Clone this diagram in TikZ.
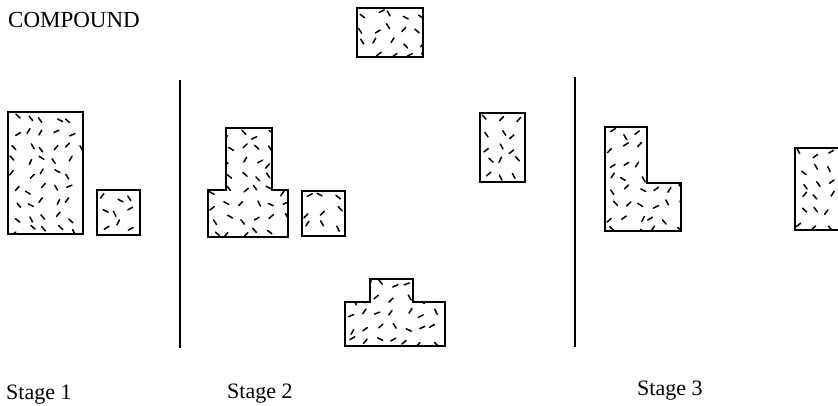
\documentclass[tikz,border=0pt]{standalone}
\usepackage{fontspec}
\setmainfont{Liberation Serif}
\tikzset{
  outline/.style={draw=black, line width=1.2pt, line join=miter},
  speck/.style={line width=1.5pt, line cap=round, draw=black},
  divider/.style={draw=black, line width=1.5pt},
  lbl/.style={inner sep=0pt, anchor=base west, font=\fontsize{22}{24}\selectfont},
  title/.style={inner sep=0pt, anchor=base west, font=\fontsize{23}{25}\selectfont},
}
\newcommand\speckle[5]{%
  \begin{scope}
    \clip #1;
    \pgfmathtruncatemacro\nx{(#4-#2)/14}
    \pgfmathtruncatemacro\ny{(#5-#3)/14}
    \foreach \i in {0,...,\nx}{
      \foreach \j in {0,...,\ny}{
        \pgfmathsetmacro\px{#2+7+\i*14+rnd*8-4}
        \pgfmathsetmacro\py{#3+7+\j*14+rnd*8-4}
        \pgfmathsetmacro\ang{ifthenelse(rnd<0.5,25+rnd*40,115+rnd*45)}
        \draw[speck] (\px,\py) ++(\ang:-2.8) -- ++(\ang:5.6);
      }}
  \end{scope}
  \draw[outline] #1;
}
\begin{document}
\begin{tikzpicture}[x=1pt,y=-1pt]
\useasboundingbox (0,0) rectangle (838,405);
\clip (0,0) rectangle (838,405);
\pgfmathsetseed{7}

% Stage 1
\speckle{(8,112) rectangle (83,234)}{8}{112}{83}{234}
\speckle{(97,190) rectangle (140,235)}{97}{190}{140}{235}

% divider 1
\coordinate (d1t) at (180,80);
\coordinate (d1b) at (180,348);
\draw[divider] (d1t) -- (d1b);

% Stage 2
\speckle{(226,128) -- (272,128) -- (272,190) -- (288,190) -- (288,237) -- (208,237) -- (208,190) -- (226,190) -- cycle}{208}{128}{288}{237}
\speckle{(302,191) rectangle (345,236)}{302}{191}{345}{236}
\speckle{(357,8) rectangle (423,57)}{357}{8}{423}{57}
\speckle{(480,113) rectangle (525,182)}{480}{113}{525}{182}
\speckle{(370,279) -- (413,279) -- (413,302) -- (445,302) -- (445,346) -- (345,346) -- (345,302) -- (370,302) -- cycle}{345}{279}{445}{346}

% divider 2
\coordinate (d2t) at (575,77);
\coordinate (d2b) at (575,347);
\draw[divider] (d2t) -- (d2b);

% Stage 3
\speckle{(605,127) -- (647,127) -- (647,183) -- (681,183) -- (681,231) -- (605,231) -- cycle}{605}{127}{681}{231}
\speckle{(795,148) rectangle (850,230)}{795}{148}{850}{230}

% labels
\node[title] (compound) at (8,27) {COMPOUND};
\node[lbl] (s1) at (6,399) {Stage 1};
\node[lbl] (s2) at (227,398) {Stage 2};
\node[lbl] (s3) at (637,395) {Stage 3};
\end{tikzpicture}
\end{document}
